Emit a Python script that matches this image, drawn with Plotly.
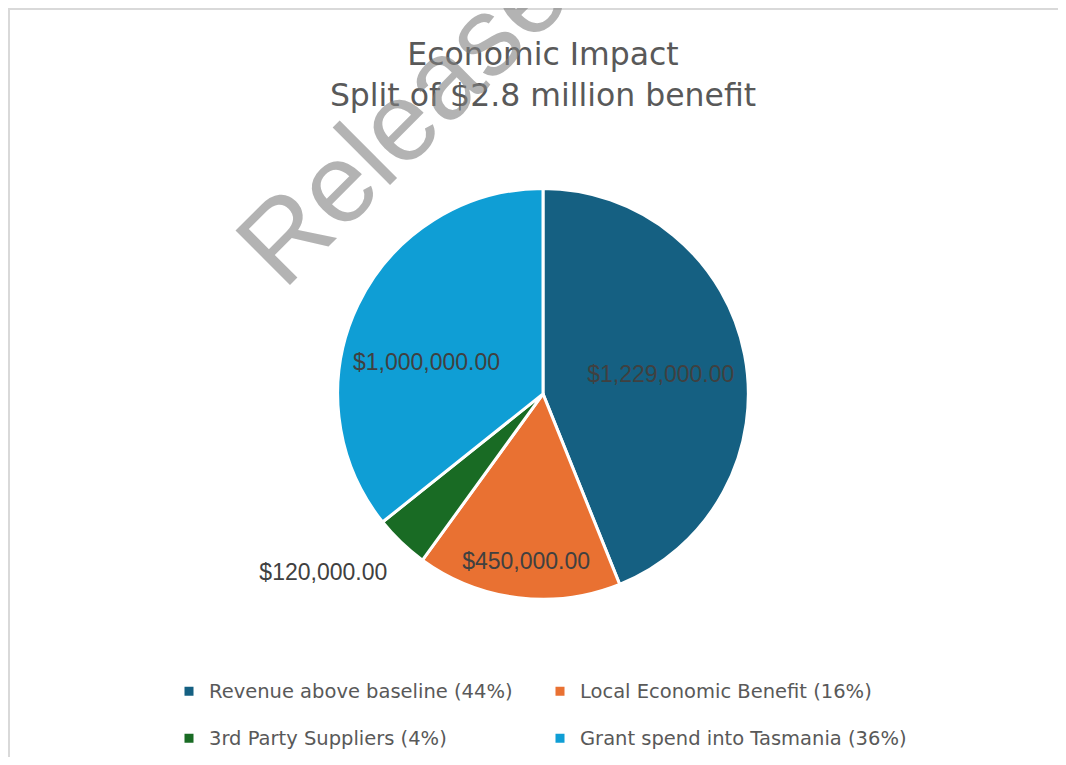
import plotly.graph_objects as go

categories = ["Revenue above baseline", "Local Economic Benefit", "3rd Party Suppliers", "Grant spend into Tasmania"]
values = [1229000, 450000, 120000, 1000000]
colors = ["#156082", "#E97132", "#196B24", "#0F9ED5"]
title_lines = ["Economic Impact", "Split of $2.8 million benefit"]

total = sum(values)
# first legend row gets an extra blank line to widen the row spacing
legend_labels = [
    f'<span style="font-size:19.5px">{c} ({round(v / total * 100)}%)</span>' + ("<br> " if i < 2 else "")
    for i, (c, v) in enumerate(zip(categories, values))
]
value_text = [f"${v:,.2f}" for v in values]
text_pos = ["inside", "inside", "outside", "inside"]
# blank lines / padding around each data label, nudging it towards the reference placement
NB = "\u00a0"
label_templates = [
    NB * 5 + "%{text}",
    " <br> <br>%{text}",
    " <br>%{text}",
    " <br>%{text}" + NB * 6,
]

# page offset of the plot div (body margin)
OFF = 8
W, H = 1066 - 2 * OFF, 765 - 2 * OFF


def px(x):
    return (x - OFF) / W


def py(y):
    return 1 - (y - OFF) / H


cx, cy, r = 543, 397, 207

fig = go.Figure(go.Pie(
    labels=legend_labels,
    values=values,
    text=value_text,
    texttemplate=label_templates,
    textposition=text_pos,
    insidetextorientation="horizontal",
    sort=False,
    direction="clockwise",
    rotation=0,
    marker=dict(colors=colors, line=dict(color="white", width=3)),
    textfont=dict(family="Liberation Sans, Arial", size=23, color="#404040"),
    outsidetextfont=dict(family="Liberation Sans, Arial", size=23, color="#404040"),
    domain=dict(x=[px(cx - r), px(cx + r)], y=[py(cy + r), py(cy - r)]),
    hoverinfo="label+value",
))

fig.update_layout(
    width=W, height=H,
    margin=dict(l=0, r=0, t=0, b=0),
    paper_bgcolor="white",
    plot_bgcolor="white",
    uniformtext=dict(minsize=23, mode="show"),
    title=dict(
        text="<br>".join(title_lines),
        x=px(543), xanchor="center",
        y=py(65), yanchor="top",
        font=dict(family="DejaVu Sans", size=31.5, color="#595959"),
    ),
    showlegend=True,
    legend=dict(
        orientation="h",
        x=px(169), xanchor="left",
        y=py(679), yanchor="top",
        entrywidth=326, entrywidthmode="pixels",
        font=dict(family="DejaVu Sans", size=17, color="#595959"),
        itemwidth=30,
        valign="top",
        bgcolor="rgba(0,0,0,0)",
    ),
    shapes=[dict(
        type="rect", xref="paper", yref="paper",
        x0=px(9), x1=1.05, y0=-0.05, y1=py(9),
        line=dict(color="#d9d9d9", width=2), layer="below",
    )],
    annotations=[dict(
        text="Release", xref="paper", yref="paper",
        x=px(401), y=py(120), xanchor="center", yanchor="middle",
        textangle=-45, showarrow=False,
        font=dict(family="Liberation Sans, Arial", size=112, color="rgba(128,128,128,0.6)"),
    )],
)

fig.write_html("out.html")
